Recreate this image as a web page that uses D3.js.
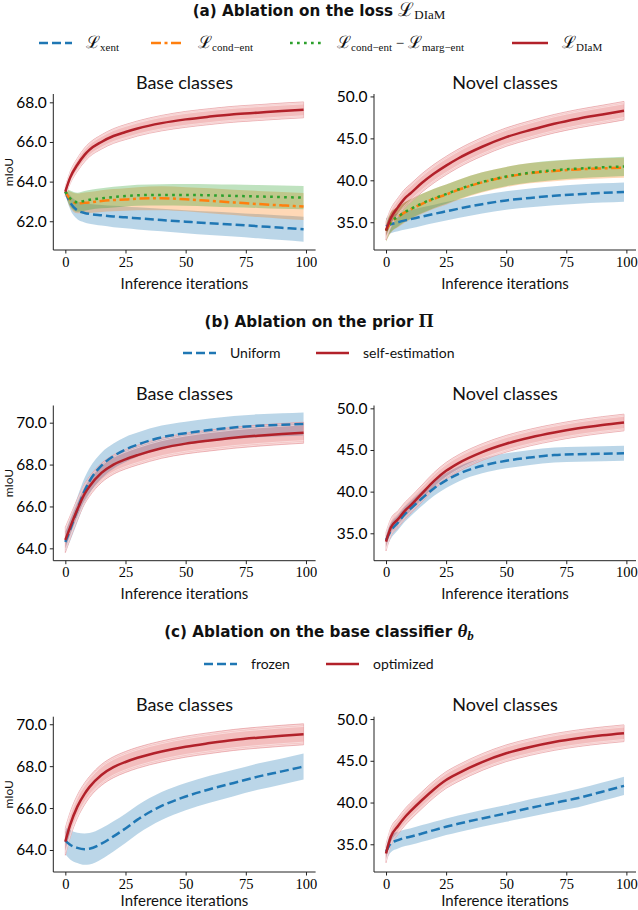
<!DOCTYPE html>
<html>
<head>
<meta charset="utf-8">
<script src="https://cdn.jsdelivr.net/npm/d3@7/dist/d3.min.js"></script>
<style>
  html, body { margin: 0; padding: 0; background: #fff; }
  svg { display: block; }
</style>
</head>
<body>
<svg id="chart" width="638" height="910"></svg>
<script>
// ---------------- DATA ----------------
const ITERS   = [0, 2, 5, 8, 10, 15, 20, 25, 30, 40, 50, 60, 70, 80, 90, 99];
const X_TICKS = [0, 25, 50, 75, 100];
const Y_TICKS_A_BASE  = [62, 64, 66, 68];
const Y_TICKS_BC_BASE = [64, 66, 68, 70];
const Y_TICKS_NOVEL   = [35, 40, 45, 50];

// (a) Ablation on the loss — Base classes
const A_BASE_XENT      = [63.5, 62.95, 62.55, 62.42, 62.37, 62.3, 62.24, 62.2, 62.15, 62.06, 61.98, 61.9, 61.83, 61.75, 61.67, 61.6];
const A_BASE_XENT_SD   = [0.15, 0.35, 0.45, 0.48, 0.5, 0.52, 0.54, 0.55, 0.56, 0.57, 0.58, 0.59, 0.6, 0.61, 0.62, 0.63];
const A_BASE_COND      = [63.5, 63.1, 62.9, 62.93, 62.95, 63.02, 63.07, 63.1, 63.14, 63.16, 63.11, 63.03, 62.95, 62.87, 62.8, 62.74];
const A_BASE_COND_SD   = [0.15, 0.4, 0.5, 0.52, 0.53, 0.55, 0.56, 0.57, 0.58, 0.6, 0.61, 0.63, 0.64, 0.66, 0.67, 0.68];
const A_BASE_MARG      = [63.5, 63.15, 62.96, 63.03, 63.08, 63.16, 63.22, 63.27, 63.31, 63.33, 63.33, 63.31, 63.28, 63.25, 63.22, 63.19];
const A_BASE_MARG_SD   = [0.15, 0.4, 0.48, 0.5, 0.5, 0.51, 0.52, 0.52, 0.53, 0.54, 0.55, 0.56, 0.57, 0.58, 0.59, 0.59];
const A_BASE_DIAM      = [63.5, 64.2, 64.85, 65.35, 65.6, 66.0, 66.3, 66.5, 66.68, 66.95, 67.14, 67.28, 67.4, 67.48, 67.56, 67.62];
const A_BASE_DIAM_SD   = [0.25, 0.3, 0.33, 0.35, 0.35, 0.36, 0.37, 0.38, 0.38, 0.39, 0.4, 0.4, 0.4, 0.4, 0.4, 0.4];

// (a) Ablation on the loss — Novel classes
const A_NOV_XENT       = [34.5, 34.75, 35.0, 35.22, 35.35, 35.68, 36.0, 36.3, 36.6, 37.15, 37.6, 37.9, 38.15, 38.35, 38.5, 38.6];
const A_NOV_XENT_SD    = [1.0, 1.05, 1.08, 1.1, 1.1, 1.1, 1.1, 1.1, 1.1, 1.1, 1.1, 1.12, 1.13, 1.14, 1.15, 1.15];
const A_NOV_COND       = [34.0, 35.0, 35.6, 36.2, 36.5, 37.2, 37.8, 38.3, 38.85, 39.75, 40.4, 40.85, 41.1, 41.3, 41.42, 41.5];
const A_NOV_COND_SD    = [1.3, 1.25, 1.2, 1.2, 1.2, 1.2, 1.2, 1.2, 1.2, 1.2, 1.2, 1.2, 1.2, 1.2, 1.2, 1.2];
const A_NOV_MARG       = [34.0, 35.0, 35.65, 36.25, 36.55, 37.25, 37.85, 38.35, 38.9, 39.8, 40.45, 40.9, 41.2, 41.4, 41.55, 41.65];
const A_NOV_MARG_SD    = [1.3, 1.2, 1.15, 1.15, 1.15, 1.15, 1.15, 1.15, 1.15, 1.15, 1.15, 1.15, 1.15, 1.15, 1.15, 1.15];
const A_NOV_DIAM       = [34.0, 35.5, 36.8, 37.9, 38.4, 39.7, 40.8, 41.75, 42.6, 44.0, 45.15, 46.0, 46.75, 47.35, 47.85, 48.3];
const A_NOV_DIAM_SD    = [1.1, 1.1, 1.1, 1.1, 1.1, 1.1, 1.1, 1.1, 1.1, 1.1, 1.1, 1.1, 1.1, 1.1, 1.1, 1.1];

// (b) Ablation on the prior — Base classes
const B_BASE_UNI       = [64.3, 64.9, 65.85, 66.75, 67.2, 67.95, 68.4, 68.72, 68.95, 69.3, 69.5, 69.65, 69.77, 69.85, 69.9, 69.94];
const B_BASE_UNI_SD    = [0.5, 0.55, 0.6, 0.62, 0.62, 0.62, 0.6, 0.6, 0.58, 0.56, 0.55, 0.55, 0.55, 0.55, 0.55, 0.55];
const B_BASE_SELF      = [64.4, 65.0, 65.85, 66.6, 66.95, 67.6, 68.0, 68.25, 68.45, 68.78, 69.0, 69.15, 69.28, 69.38, 69.46, 69.52];
const B_BASE_SELF_SD   = [0.6, 0.55, 0.5, 0.48, 0.47, 0.46, 0.46, 0.46, 0.47, 0.48, 0.49, 0.5, 0.5, 0.5, 0.5, 0.5];

// (b) Ablation on the prior — Novel classes
const B_NOV_UNI        = [34.2, 35.3, 36.3, 37.35, 37.9, 39.2, 40.4, 41.35, 42.1, 43.1, 43.7, 44.1, 44.4, 44.5, 44.55, 44.6];
const B_NOV_UNI_SD     = [1.0, 0.95, 0.9, 0.9, 0.9, 0.9, 0.9, 0.9, 0.9, 0.9, 0.9, 0.9, 0.9, 0.9, 0.9, 0.9];
const B_NOV_SELF       = [34.0, 35.7, 36.7, 37.75, 38.3, 39.8, 41.3, 42.5, 43.4, 44.75, 45.75, 46.5, 47.1, 47.6, 48.0, 48.3];
const B_NOV_SELF_SD    = [1.1, 1.05, 1.0, 1.0, 1.0, 1.0, 1.0, 1.0, 1.0, 1.0, 1.0, 1.0, 1.0, 1.0, 1.0, 1.0];

// (c) Ablation on the base classifier — Base classes
const C_BASE_FROZEN    = [64.45, 64.25, 64.1, 64.04, 64.06, 64.3, 64.65, 65.03, 65.45, 66.1, 66.55, 66.9, 67.2, 67.5, 67.75, 67.98];
const C_BASE_FROZEN_SD = [0.65, 0.7, 0.72, 0.75, 0.75, 0.74, 0.72, 0.7, 0.69, 0.67, 0.65, 0.64, 0.63, 0.63, 0.62, 0.62];
const C_BASE_OPT       = [64.4, 65.2, 66.07, 66.68, 67.0, 67.58, 67.95, 68.2, 68.4, 68.7, 68.93, 69.1, 69.25, 69.36, 69.45, 69.52];
const C_BASE_OPT_SD    = [0.65, 0.6, 0.55, 0.52, 0.5, 0.5, 0.5, 0.5, 0.5, 0.5, 0.5, 0.5, 0.5, 0.5, 0.5, 0.5];

// (c) Ablation on the base classifier — Novel classes
const C_NOV_FROZEN     = [34.1, 35.1, 35.5, 35.78, 35.9, 36.3, 36.7, 37.1, 37.45, 38.1, 38.7, 39.35, 39.95, 40.55, 41.3, 42.0];
const C_NOV_FROZEN_SD  = [1.1, 1.05, 1.0, 1.0, 1.0, 1.0, 1.0, 1.0, 1.0, 1.0, 1.0, 1.05, 1.05, 1.1, 1.1, 1.1];
const C_NOV_OPT        = [33.9, 35.9, 37.2, 38.3, 38.9, 40.3, 41.6, 42.7, 43.5, 44.85, 45.9, 46.65, 47.25, 47.7, 48.05, 48.3];
const C_NOV_OPT_SD     = [1.1, 1.05, 1.0, 1.0, 1.0, 1.0, 1.0, 1.0, 1.0, 1.0, 1.0, 1.0, 1.0, 1.0, 1.0, 1.0];

// ---------------- STYLE ----------------
const BLUE = "#1f77b4", ORANGE = "#ff7f0e", GREEN = "#2ca02c", RED = "#d62728", RED_LINE = "#b2212a";
const STY = {
  blue:   { color: BLUE,   line: BLUE,     dash: "9,4" },
  orange: { color: ORANGE, line: ORANGE,   dash: "10,3.5,3,3.5" },
  green:  { color: GREEN,  line: GREEN,    dash: "2.7,4.3" },
  red:    { color: RED,    line: RED_LINE, dash: null, hatch: true }
};

const svg = d3.select("#chart");
const SANS = 'Lato, "Open Sans", "DejaVu Sans", sans-serif';
const BOLD = '"DejaVu Sans", Lato, sans-serif';
const SERIF = '"Liberation Serif", "DejaVu Serif", serif';

const LEFT  = { x0: 53.3, x1: 315.6 };
const RIGHT = { x0: 374, x1: 636 };

const panels = [
  { box: LEFT,  yTop: 94,    yBot: 250, ydom: [60.55, 68.42], yticks: Y_TICKS_A_BASE,  title: "Base classes",  ylabel: true,
    series: [["blue", A_BASE_XENT, A_BASE_XENT_SD], ["orange", A_BASE_COND, A_BASE_COND_SD], ["green", A_BASE_MARG, A_BASE_MARG_SD], ["red", A_BASE_DIAM, A_BASE_DIAM_SD]] },
  { box: RIGHT, yTop: 94,    yBot: 250, ydom: [31.69, 50.29], yticks: Y_TICKS_NOVEL,   title: "Novel classes", ylabel: false,
    series: [["blue", A_NOV_XENT, A_NOV_XENT_SD], ["orange", A_NOV_COND, A_NOV_COND_SD], ["green", A_NOV_MARG, A_NOV_MARG_SD], ["red", A_NOV_DIAM, A_NOV_DIAM_SD]] },
  { box: LEFT,  yTop: 405.5, yBot: 560.7, ydom: [63.41, 70.82], yticks: Y_TICKS_BC_BASE, title: "Base classes",  ylabel: true,
    series: [["blue", B_BASE_UNI, B_BASE_UNI_SD], ["red", B_BASE_SELF, B_BASE_SELF_SD]] },
  { box: RIGHT, yTop: 405.5, yBot: 560.7, ydom: [31.71, 50.34], yticks: Y_TICKS_NOVEL,   title: "Novel classes", ylabel: false,
    series: [["blue", B_NOV_UNI, B_NOV_UNI_SD], ["red", B_NOV_SELF, B_NOV_SELF_SD]] },
  { box: LEFT,  yTop: 716.7, yBot: 872, ydom: [62.95, 70.36], yticks: Y_TICKS_BC_BASE, title: "Base classes",  ylabel: true,
    series: [["blue", C_BASE_FROZEN, C_BASE_FROZEN_SD], ["red", C_BASE_OPT, C_BASE_OPT_SD]] },
  { box: RIGHT, yTop: 716.7, yBot: 872, ydom: [31.68, 50.28], yticks: Y_TICKS_NOVEL,   title: "Novel classes", ylabel: false,
    series: [["blue", C_NOV_FROZEN, C_NOV_FROZEN_SD], ["red", C_NOV_OPT, C_NOV_OPT_SD]] }
];

panels.forEach(p => {
  const x = d3.scaleLinear().domain([-5, 104]).range([p.box.x0, p.box.x1]);
  const y = d3.scaleLinear().domain(p.ydom).range([p.yBot, p.yTop]);
  const g = svg.append("g");
  const idx = d3.range(ITERS.length);
  const curve = d3.curveMonotoneX;

  // bands
  p.series.forEach(([k, m, s]) => {
    const st = STY[k];
    const area = d3.area().curve(curve)
      .x(i => x(ITERS[i])).y0(i => y(m[i] - s[i])).y1(i => y(m[i] + s[i]));
    g.append("path").attr("d", area(idx)).attr("fill", st.color).attr("fill-opacity", 0.3)
      .attr("stroke", st.hatch ? "#e8a4a8" : "none").attr("stroke-width", st.hatch ? 0.8 : 0);
    if (st.hatch) {
      [-0.9, -0.75, 0.75, 0.9].forEach(f => {
        const ln = d3.line().curve(curve).x(i => x(ITERS[i])).y(i => y(m[i] + f * s[i]));
        g.append("path").attr("d", ln(idx)).attr("fill", "none")
          .attr("stroke", "#fff").attr("stroke-opacity", 0.75).attr("stroke-width", 0.6);
      });
    }
  });
  // lines
  p.series.forEach(([k, m]) => {
    const st = STY[k];
    const ln = d3.line().curve(curve).x(i => x(ITERS[i])).y(i => y(m[i]));
    g.append("path").attr("d", ln(idx)).attr("fill", "none")
      .attr("stroke", st.line).attr("stroke-width", 2.5)
      .attr("stroke-dasharray", st.dash).attr("stroke-linecap", "butt");
  });

  // axes
  const xa = g.append("g").attr("transform", `translate(0,${p.yBot})`)
    .call(d3.axisBottom(x).tickValues(X_TICKS).tickSize(3.5).tickPadding(3).tickFormat(d3.format("d")));
  xa.selectAll("text").attr("font-family", SERIF).attr("font-size", 14.5).attr("fill", "#000");
  const ya = g.append("g").attr("transform", `translate(${p.box.x0},0)`)
    .call(d3.axisLeft(y).tickValues(p.yticks).tickSize(3.5).tickPadding(3).tickFormat(d3.format(".1f")));
  ya.selectAll("text").attr("font-family", SANS).attr("font-size", 15.5).attr("fill", "#000");
  [xa, ya].forEach(a => {
    a.select(".domain").attr("stroke", "#222").attr("stroke-width", 1);
    a.selectAll(".tick line").attr("stroke", "#222").attr("stroke-width", 1);
  });
  ya.select(".domain").attr("d", `M0,${p.yBot}V${p.yTop}`);
  xa.select(".domain").attr("d", `M${p.box.x0},0H${p.box.x1}`);

  const cx = (p.box.x0 + p.box.x1) / 2;
  g.append("text").attr("x", cx).attr("y", p.yTop - 5.5).attr("text-anchor", "middle")
    .attr("font-family", SANS).attr("font-size", 18).attr("fill", "#111").text(p.title);
  g.append("text").attr("x", cx).attr("y", Math.min(p.yBot + 38.5, 905.5)).attr("text-anchor", "middle")
    .attr("font-family", SANS).attr("font-size", 15).attr("fill", "#111").text("Inference iterations");
  if (p.ylabel) {
    const cy = (p.yTop + p.yBot) / 2;
    g.append("text").attr("transform", `translate(12.5,${cy}) rotate(-90)`).attr("text-anchor", "middle")
      .attr("font-family", SANS).attr("font-size", 12).attr("fill", "#111").text("mIoU");
  }
});

// ---------------- TITLES ----------------
function richText(sel, parts, base) {
  parts.forEach(pt => {
    const t = sel.append("tspan").text(pt.t);
    t.attr("font-family", pt.serif ? SERIF : base);
    if (pt.size) t.attr("font-size", pt.size);
    if (pt.italic) t.attr("font-style", "italic");
    if (pt.weight) t.attr("font-weight", pt.weight);
    if (pt.dy) t.attr("dy", pt.dy);
  });
}
function title(yy, parts) {
  const t = svg.append("text").attr("x", 319).attr("y", yy).attr("text-anchor", "middle")
    .attr("font-size", 15.2).attr("font-weight", "bold").attr("fill", "#111");
  richText(t, parts, BOLD);
}
title(16, [{ t: "(a) Ablation on the loss " }, { t: "ℒ", serif: true, weight: "normal", size: 19 }, { t: "DIaM", serif: true, weight: "normal", size: 13, dy: 3 }]);
title(327, [{ t: "(b) Ablation on the prior " }, { t: "Π", serif: true, weight: "bold", size: 19 }]);
title(637, [{ t: "(c) Ablation on the base classifier " }, { t: "θ", serif: true, italic: true, weight: "bold", size: 19 }, { t: "b", serif: true, italic: true, weight: "bold", size: 13, dy: 3 }]);

// ---------------- LEGENDS ----------------
function legendItem(x0, x1, yy, key, parts) {
  const st = STY[key];
  svg.append("line").attr("x1", x0).attr("x2", x1).attr("y1", yy).attr("y2", yy)
    .attr("stroke", st.line).attr("stroke-width", 2.5).attr("stroke-dasharray", st.dash);
  const t = svg.append("text").attr("x", x1 + 14).attr("y", yy + 5).attr("font-size", 14).attr("fill", "#111");
  richText(t, parts, SANS);
}
const L = (sub) => [{ t: "ℒ", serif: true, size: 17 }, { t: sub, serif: true, size: 11, dy: 3 }];
legendItem(39, 72, 43, "blue", L("xent"));
legendItem(151, 184, 43, "orange", L("cond−ent"));
legendItem(290, 323, 43, "green", [{ t: "ℒ", serif: true, size: 17 }, { t: "cond−ent", serif: true, size: 11, dy: 3 },
  { t: " − ", serif: true, size: 15, dy: -3 }, { t: "ℒ", serif: true, size: 17 }, { t: "marg−ent", serif: true, size: 11, dy: 3 }]);
legendItem(512, 548, 43, "red", L("DIaM"));

legendItem(183, 216, 353, "blue", [{ t: "Uniform" }]);
legendItem(316, 349, 353, "red", [{ t: "self-estimation" }]);
legendItem(204, 237, 664, "blue", [{ t: "frozen" }]);
legendItem(326, 359, 664, "red", [{ t: "optimized" }]);
</script>
</body>
</html>
